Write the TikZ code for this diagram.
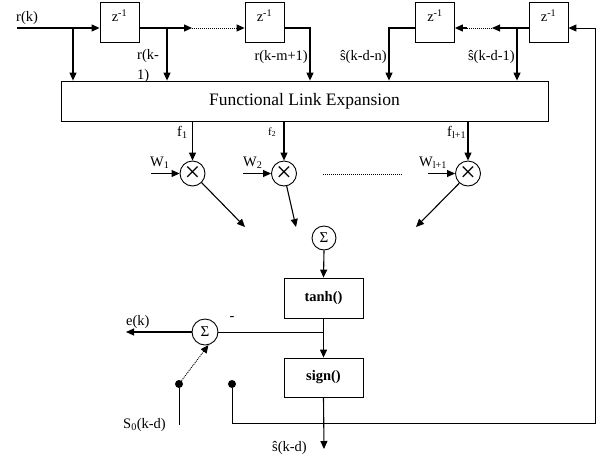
\documentclass[tikz,border=0pt]{standalone}
\usepackage{fontspec}
\setmainfont{Liberation Serif}
\usetikzlibrary{arrows.meta}
\tikzset{
 arr/.style={line width=1.1pt, -{Triangle[length=8pt,width=7pt]}},
 ln/.style={line width=0.9pt},
 dots/.style={line width=0.8pt, dash pattern=on 1pt off 1pt},
 zbox/.style={draw, line width=0.8pt, minimum width=39pt, minimum height=40pt, inner sep=0pt},
 fbox/.style={draw, line width=0.8pt, fill=white, inner sep=0pt},
 mult/.style={circle, draw, line width=0.9pt, minimum size=25pt, inner sep=0pt},
 lbl/.style={inner sep=0pt, font=\fontsize{14.5}{17}\selectfont},
 dotnode/.style={circle, fill, minimum size=8pt, inner sep=0pt},
}
\begin{document}
\begin{tikzpicture}[x=1pt,y=-1pt]
\useasboundingbox (0,0) rectangle (601,456);
% delay boxes
\node[zbox] (z1) at (119.5,22) {};
\node[zbox] (z2) at (264.5,22) {};
\node[zbox] (z3) at (435,22) {};
\node[zbox] (z4) at (548.5,22) {};
\foreach \z in {z1,z2,z3,z4}{\node[lbl] at ([yshift=-14pt]\z.north) {z\textsuperscript{-1}};}
% labels
\node[lbl, anchor=base west] (lrk) at (16,21) {r(k)};
\node[lbl, align=left, anchor=north west, font=\fontsize{14.5}{20}\selectfont] (lrk1) at (137,49) {r(k-\\1)};
\node[lbl, anchor=base east] (lrkm) at (308,60) {r(k-m+1)};
\node[lbl, anchor=base east] (lsn) at (387,60) {ŝ(k-d-n)};
\node[lbl, anchor=base east] (ls1) at (515,60) {ŝ(k-d-1)};
% FLE
\node[fbox, minimum width=487pt, minimum height=40pt, font=\fontsize{17.5}{18}\selectfont] (fle) at (304.5,101) {Functional Link Expansion};
% top connectors
\coordinate (in) at (17,28);
\coordinate (b0) at (73,28);
\coordinate (b1) at (167,28);
\coordinate (d1) at (192,28);
\coordinate (d2) at (237,28);
\coordinate (c2) at (310,28);
\coordinate (c3) at (389,28);
\coordinate (e1) at (492,28);
\coordinate (e2) at (467,28);
\coordinate (b4) at (517,28);
\draw[arr] (in) -- (in -| z1.west);
\draw[arr] (b0) -- (b0 |- fle.north);
\draw[arr] (z1.east |- in) -- (d1);
\draw[dots] (d1) -- (d2);
\draw[arr] (d2) -- (d2 -| z2.west);
\draw[arr] (b1) -- (b1 |- fle.north);
\draw[arr] (z2.east |- in) -- (c2) -- (c2 |- fle.north);
\draw[arr] (z3.west |- in) -- (c3) -- (c3 |- fle.north);
\draw[arr] (z4.west |- in) -- (e1);
\draw[dots] (e1) -- (e2);
\draw[arr] (e2) -- (e2 -| z3.east);
\draw[arr] (b4) -- (b4 |- fle.north);
% multipliers
\node[mult, font=\fontsize{28}{28}\selectfont] (m1) at (192.5,173.5) {×};
\node[mult, font=\fontsize{28}{28}\selectfont] (m2) at (284,173.5) {×};
\node[mult, font=\fontsize{28}{28}\selectfont] (m3) at (468,173.5) {×};
\draw[arr] (m1 |- fle.south) -- (m1.north);
\draw[arr] (m2 |- fle.south) -- (m2.north);
\draw[arr] (m3 |- fle.south) -- (m3.north);
\node[lbl, anchor=base west] (lf1) at (177,136) {f\textsubscript{1}};
\node[lbl, anchor=base west, font=\fontsize{11}{12}\selectfont] (lf2) at (268,135) {f\textsubscript{2}};
\node[lbl, anchor=base west] (lf3) at (447,136) {f\textsubscript{l+1}};
\coordinate (w1) at (151,173.5);
\coordinate (w2) at (243,173.5);
\coordinate (w3) at (428,173.5);
\draw[arr] (w1) -- (m1.west);
\draw[arr] (w2) -- (m2.west);
\draw[arr] (w3) -- (m3.west);
\node[lbl, anchor=base west] (lw1) at (150,166) {W\textsubscript{1}};
\node[lbl, anchor=base west] (lw2) at (243,166) {W\textsubscript{2}};
\node[lbl, anchor=base west] (lw3) at (419,166) {W\textsubscript{l+1}};
\draw[dots] (323,174) -- (403,174);
% summation
\node[mult, minimum size=24pt, font=\fontsize{15}{15}\selectfont] (s1) at (324,238) {Σ};
\coordinate (t1) at (245,227);
\coordinate (t2) at (296,227);
\coordinate (t3) at (416,227);
\draw[arr] (m1.-45) -- (t1);
\draw[arr] (m2.-78) -- (t2);
\draw[arr] (m3.-132) -- (t3);
% tanh / sign
\node[fbox, minimum width=79pt, minimum height=40pt, font=\bfseries\fontsize{14.5}{15}\selectfont] (th) at (323.5,298) {tanh()};
\node[fbox, minimum width=79pt, minimum height=39pt, font=\bfseries\fontsize{14.5}{15}\selectfont] (sg) at (323.5,377.5) {sign()};
\draw[arr] (s1.south) -- (th.north);
\draw[arr] (th.south) -- (sg.north);
% error sum
\node[mult, minimum size=26pt, font=\fontsize{15}{15}\selectfont] (s2) at (205,332) {Σ};
\draw[ln] (s2.east) -- (s2.east -| th.south);
\coordinate (ek) at (126,332);
\draw[arr] (s2.west) -- (ek);
\node[lbl, anchor=base west] (lek) at (126,325) {e(k)};
\node[lbl] (lminus) at (232,319) {-};
% switch
\node[dotnode] (dot1) at (179,384) {};
\node[dotnode] (dot2) at (232,384) {};
\coordinate (s0) at (179,425);
\draw[ln] (dot1) -- (s0);
\draw[dots, line width=0.9pt, -{Triangle[length=8pt,width=7pt]}] (dot1) -- (s2.-75);
\node[lbl, anchor=base west] (ls0) at (123,428) {S\textsubscript{0}(k-d)};
% feedback
\coordinate (fbl) at (232,423);
\coordinate (fbr) at (595,423);
\coordinate (fbt) at (595,28);
\draw[arr, line width=0.9pt] (dot2) -- (fbl) -- (fbr) -- (fbt) -- (fbt -| z4.east);
% output
\coordinate (out) at (324,449);
\draw[arr] (sg.south) -- (out);
\node[lbl, anchor=base east] (lout) at (307,451) {ŝ(k-d)};
\end{tikzpicture}
\end{document}
